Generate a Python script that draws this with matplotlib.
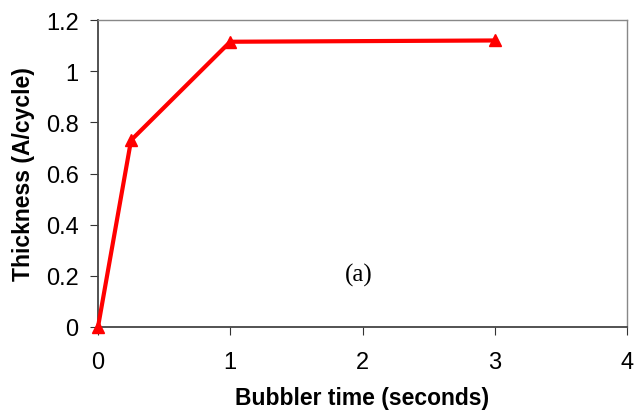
import matplotlib

matplotlib.use("Agg")
import matplotlib.pyplot as plt

bubbler_time = [0, 0.25, 1, 3]
thickness = [0, 0.73, 1.115, 1.12]
x_ticks = [0, 1, 2, 3, 4]
y_ticks = [0, 0.2, 0.4, 0.6, 0.8, 1, 1.2]
y_tick_labels = ["0", "0.2", "0.4", "0.6", "0.8", "1", "1.2"]

plt.rcParams["font.family"] = ["Liberation Sans", "DejaVu Sans"]

fig = plt.figure(figsize=(6.34, 4.14), dpi=100)
ax = fig.add_axes([98 / 634, 1 - 328 / 414, (627 - 98) / 634, (328 - 21) / 414])

ax.plot(bubbler_time, thickness, color="red", lw=3, marker="^", ms=9,
        clip_on=False, zorder=5)

ax.set_xlim(0, 4)
ax.set_ylim(0, 1.2)
ax.set_xticks(x_ticks)
ax.set_yticks(y_ticks)
ax.set_yticklabels(y_tick_labels)
ax.tick_params(labelsize=17, length=6, color="#333333", direction="out")
ax.tick_params(axis="x", pad=11)
ax.tick_params(axis="y", pad=8)

for side in ("left", "bottom"):
    ax.spines[side].set_color("#444444")
    ax.spines[side].set_linewidth(1.3)
for side in ("top", "right"):
    ax.spines[side].set_color("#888888")
    ax.spines[side].set_linewidth(1.0)

ax.set_xlabel("Bubbler time (seconds)", fontsize=16.5, fontweight="bold", labelpad=10)
ax.set_ylabel("Thickness (A/cycle)", fontsize=16.5, fontweight="bold", labelpad=8)

ax.text(1.97, 0.207, "(a)", fontsize=18, family="Liberation Serif",
        ha="center", va="center")

fig.savefig("out.png", dpi=100)
